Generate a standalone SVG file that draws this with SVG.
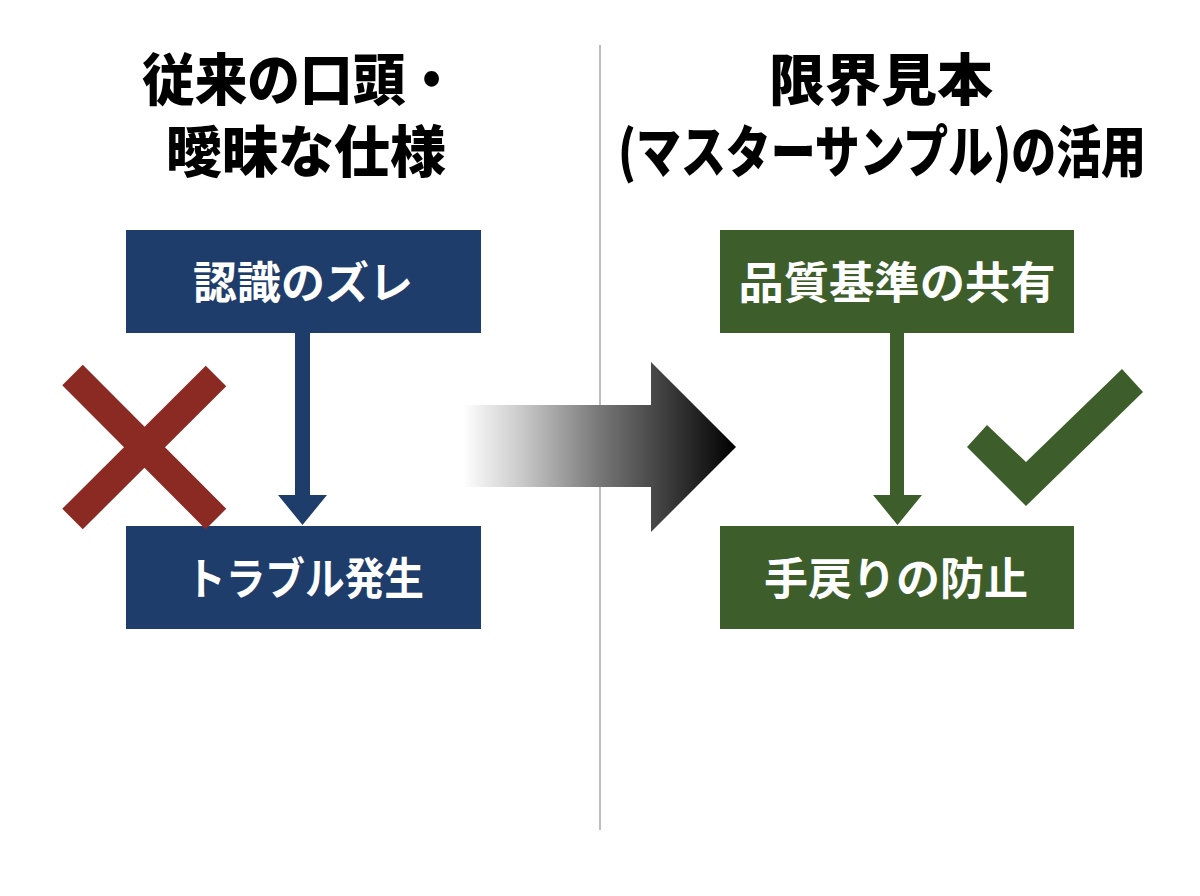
<svg xmlns="http://www.w3.org/2000/svg" width="1200" height="896" viewBox="0 0 1200 896">
<defs>
<style>
.title{font-family:"Noto Sans CJK JP","Noto Sans",sans-serif;font-weight:900;font-size:56px;fill:#000;text-anchor:middle}
.lbl{font-family:"Noto Sans CJK JP","Noto Sans",sans-serif;font-weight:700;font-size:44px;fill:#fff;text-anchor:middle}
.blue{fill:#1f3d6b}
.green{fill:#3d5e2a}
</style>
<linearGradient id="grad" gradientUnits="userSpaceOnUse" x1="463" y1="0" x2="736" y2="0">
<stop offset="0" stop-color="#ffffff"/>
<stop offset="0.22" stop-color="#c8c8c8"/>
<stop offset="0.5" stop-color="#777777"/>
<stop offset="0.69" stop-color="#4a4a4a"/>
<stop offset="1" stop-color="#000000"/>
</linearGradient>
</defs>
<rect width="1200" height="896" fill="#ffffff"/>
<line x1="600" y1="45" x2="600" y2="830" stroke="#bdbdbd" stroke-width="2"/>

<g id="title-left">
<text class="title" x="300" y="100" textLength="316" lengthAdjust="spacingAndGlyphs">従来の口頭・</text>
<text class="title" x="306" y="172">曖昧な仕様</text>
</g>
<g id="title-right">
<text class="title" x="881" y="100">限界見本</text>
<text class="title" x="882" y="172" textLength="528" lengthAdjust="spacingAndGlyphs">(マスターサンプル)の活用</text>
</g>

<g id="node-ninshiki">
<rect class="blue" x="126" y="230" width="355" height="103"/>
<text class="lbl" x="303" y="299">認識のズレ</text>
</g>
<g id="node-trouble">
<rect class="blue" x="126" y="526" width="355" height="103"/>
<text class="lbl" x="305" y="595" textLength="238" lengthAdjust="spacingAndGlyphs">トラブル発生</text>
</g>
<g id="node-hinshitsu">
<rect class="green" x="720" y="230" width="354" height="103"/>
<text class="lbl" x="897" y="299" textLength="317" lengthAdjust="spacingAndGlyphs">品質基準の共有</text>
</g>
<g id="node-temodori">
<rect class="green" x="720" y="526" width="354" height="103"/>
<text class="lbl" x="896" y="595">手戻りの防止</text>
</g>

<g id="connectors">
<polygon class="blue" points="295,333 310,333 310,495 327,495 302.5,525 278,495 295,495"/>
<polygon class="green" points="890,333 904,333 904,495 922,495 897.5,525 873,495 890,495"/>
<polygon fill="url(#grad)" points="463,405 651,405 651,362 736,447 651,532 651,487 463,487"/>
</g>

<g id="mark-cross">
<line x1="72.5" y1="375" x2="216" y2="519" stroke="#8b2a22" stroke-width="29"/>
<line x1="216" y1="376" x2="72.5" y2="519" stroke="#8b2a22" stroke-width="29"/>
</g>
<g id="mark-check">
<polygon fill="#3d5e2a" points="967,447 1026,506 1143,392 1122,369 1026,462 987,425"/>
</g>
</svg>
